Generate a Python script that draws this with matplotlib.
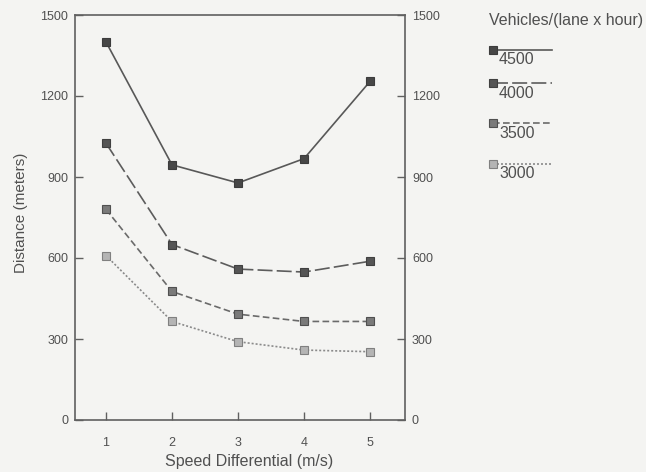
import matplotlib

matplotlib.use('Agg')
import matplotlib.pyplot as plt
from matplotlib.lines import Line2D

plt.rcParams['font.family'] = ['Liberation Sans', 'DejaVu Sans']

# Данные
speed = [1, 2, 3, 4, 5]
flows = ['4500', '4000', '3500', '3000']
dist_4500 = [1400, 945, 878, 968, 1254]
dist_4000 = [1025, 650, 559, 548, 588]
dist_3500 = [780, 476, 392, 365, 365]
dist_3000 = [609, 365, 290, 259, 253]
y_ticks = [0, 300, 600, 900, 1200, 1500]

series = [dist_4500, dist_4000, dist_3500, dist_3000]
# стиль: линия, цвет линии, заливка маркера, край маркера
styles = [
    ('-', '#585858', '#474747', '#3c3c3c'),
    ((0, (9, 2.5)), '#5c5c5c', '#555555', '#404040'),
    ((0, (4, 2)), '#6a6a6a', '#7a7a7a', '#505050'),
    ((0, (1.2, 1.2)), '#8a8a8a', '#b4b4b4', '#808080'),
]

bg = '#f4f4f2'
txt = '#505050'

fig = plt.figure(figsize=(6.46, 4.72), dpi=100, facecolor=bg)
ax = fig.add_axes([75 / 646, 52 / 472, 330 / 646, 405 / 472])
ax.set_facecolor(bg)

for vals, (ls, lc, mfc, mec) in zip(series, styles):
    ax.plot(speed, vals, linestyle=ls, color=lc, lw=1.2,
            marker='s', markersize=5.5, markerfacecolor=mfc, markeredgecolor=mec,
            markeredgewidth=0.8)

ax.set_xlim(0.53, 5.53)
ax.set_ylim(0, 1500)
ax.set_xticks(speed)
ax.set_yticks(y_ticks)
ax.tick_params(direction='in', length=6, width=1, colors='#606060',
               labelsize=9, labelcolor=txt)
ax.tick_params(axis='y', right=True, labelright=True, pad=5)
ax.tick_params(axis='x', pad=12)
for s in ax.spines.values():
    s.set_color('#606060')
    s.set_linewidth(1.2)

ax.set_xlabel('Speed Differential (m/s)', fontsize=11.5, color=txt)
ax.set_ylabel('Distance (meters)', fontsize=11, color=txt)
ax.xaxis.set_label_coords(0.527, -0.083)
ax.yaxis.set_label_coords(-0.142, 0.511)

# Легенда (рисуем вручную)
fig.text(489 / 646, 1 - 20 / 472, 'Vehicles/(lane x hour)', fontsize=11.5,
         color=txt, va='center', ha='left')
leg_y = [50, 83, 123, 164]
for name, y, (ls, lc, mfc, mec) in zip(flows, leg_y, styles):
    yf = 1 - y / 472
    fig.add_artist(Line2D([493 / 646, 552 / 646], [yf, yf], transform=fig.transFigure,
                          linestyle=ls, color=lc, lw=1.2))
    fig.add_artist(Line2D([493 / 646], [yf], transform=fig.transFigure,
                          marker='s', markersize=5.5, markerfacecolor=mfc,
                          markeredgecolor=mec, markeredgewidth=0.8, linestyle='none'))
    fig.text(499 / 646, yf - 10 / 472, name, fontsize=11.5, color=txt,
             va='center', ha='left')

fig.savefig('out.png', dpi=100, facecolor=bg)
